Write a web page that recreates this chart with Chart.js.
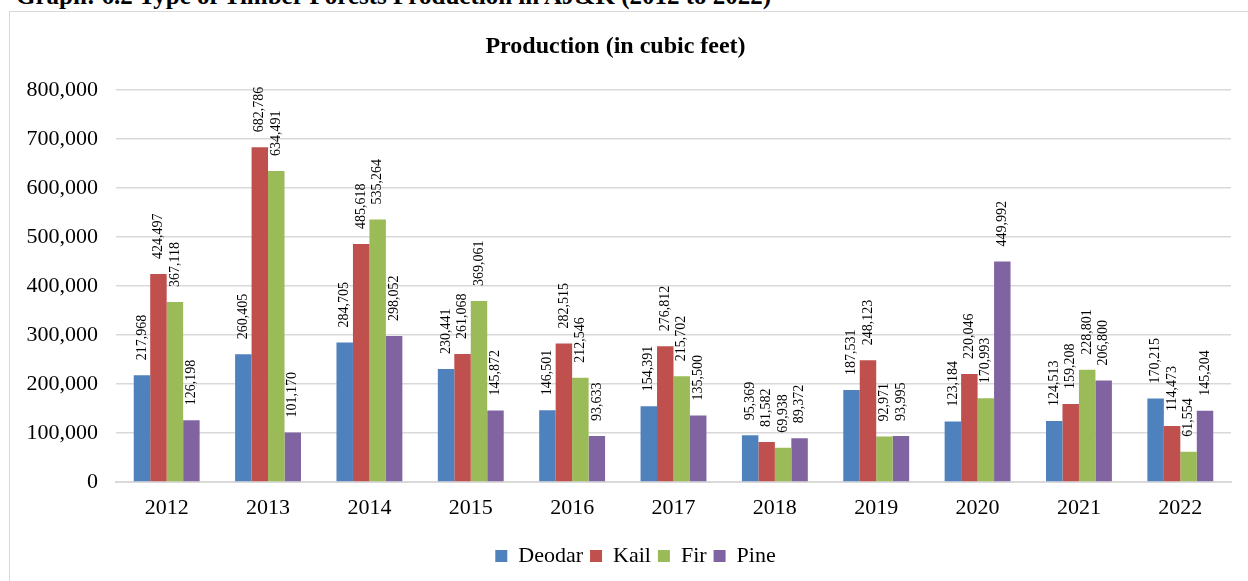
<!DOCTYPE html>
<html>
<head>
<meta charset="utf-8">
<script src="https://cdn.jsdelivr.net/npm/chart.js@4.4.1/dist/chart.umd.min.js"></script>
<style>
  html, body { margin: 0; padding: 0; background: #fff; overflow: hidden; }
  body { width: 1248px; height: 581px; position: relative; font-family: "Liberation Serif", "Times New Roman", serif; }
  #heading { position: absolute; left: 16px; top: -18px; font-size: 25px; font-weight: bold; white-space: nowrap; }
  #box { position: absolute; left: 9px; top: 11px; width: 1250px; height: 580px; border: 1px solid #d9d9d9; box-sizing: border-box; }
  #chart { position: absolute; left: 0; top: 0; }
</style>
</head>
<body>
<div id="heading">Graph: 6.2 Type of Timber Forests Production in AJ&amp;K (2012 to 2022)</div>
<div id="box"></div>
<canvas id="chart" width="1248" height="581"></canvas>
<script>
const years = ["2012", "2013", "2014", "2015", "2016", "2017", "2018", "2019", "2020", "2021", "2022"];
const deodar = [217968, 260405, 284705, 230441, 146501, 154391, 95369, 187531, 123184, 124513, 170215];
const kail = [424497, 682786, 485618, 261068, 282515, 276812, 81582, 248123, 220046, 159208, 114473];
const fir = [367118, 634491, 535264, 369061, 212546, 215702, 69938, 92971, 170993, 228801, 61554];
const pine = [126198, 101170, 298052, 145872, 93633, 135500, 89372, 93995, 449992, 206800, 145204];

const fontFamily = '"Liberation Serif", "Times New Roman", serif';

// vertical value labels above each bar
const barLabels = {
  id: "barLabels",
  afterDatasetsDraw(chart) {
    const ctx = chart.ctx;
    ctx.save();
    ctx.font = "14px " + fontFamily;
    ctx.fillStyle = "#000";
    ctx.textAlign = "left";
    ctx.textBaseline = "middle";
    chart.data.datasets.forEach((ds, i) => {
      chart.getDatasetMeta(i).data.forEach((bar, j) => {
        ctx.save();
        ctx.translate(bar.x, bar.y - 15);
        ctx.rotate(-Math.PI / 2);
        ctx.fillText(ds.data[j].toLocaleString("en-US"), 0, 0);
        ctx.restore();
      });
    });
    ctx.restore();
  }
};

// nudge the legend so it centres under the plot area like the original
const legendShift = {
  id: "legendShift",
  afterLayout(chart) {
    chart.legend.left += 20;
    chart.legend.right += 20;
  }
};

new Chart(document.getElementById("chart"), {
  type: "bar",
  data: {
    labels: years,
    datasets: [
      { label: "Deodar", data: deodar, backgroundColor: "#4F81BD" },
      { label: "Kail", data: kail, backgroundColor: "#C0504D" },
      { label: "Fir", data: fir, backgroundColor: "#9BBB59" },
      { label: "Pine", data: pine, backgroundColor: "#8064A2" }
    ]
  },
  options: {
    responsive: false,
    animation: false,
    layout: { padding: { top: 20, right: 17, bottom: 4, left: 0 } },
    datasets: { bar: { barPercentage: 1, categoryPercentage: 0.65 } },
    scales: {
      x: {
        grid: { display: false },
        border: { display: true, color: "#d9d9d9", width: 2 },
        ticks: { color: "#000", font: { family: fontFamily, size: 22 }, padding: 5, maxRotation: 0, autoSkip: false },
        afterFit(scale) { scale.height = 56; }
      },
      y: {
        min: 0,
        max: 800000,
        grid: { color: "#d9d9d9", lineWidth: 1.5, drawTicks: false },
        border: { display: false },
        ticks: {
          stepSize: 100000,
          color: "#000",
          padding: 18,
          font: { family: fontFamily, size: 22 },
          callback: (v) => v.toLocaleString("en-US")
        },
        afterFit(scale) { scale.width = 116; }
      }
    },
    plugins: {
      title: {
        display: true,
        text: "Production (in cubic feet)",
        color: "#000",
        font: { family: fontFamily, size: 24, weight: "bold" },
        padding: { top: 12, bottom: 29 }
      },
      legend: {
        position: "bottom",
        labels: {
          color: "#000",
          boxWidth: 12,
          boxHeight: 12,
          padding: 7,
          font: { family: fontFamily, size: 22 }
        }
      },
      tooltip: { enabled: false }
    }
  },
  plugins: [barLabels, legendShift]
});
</script>
</body>
</html>
